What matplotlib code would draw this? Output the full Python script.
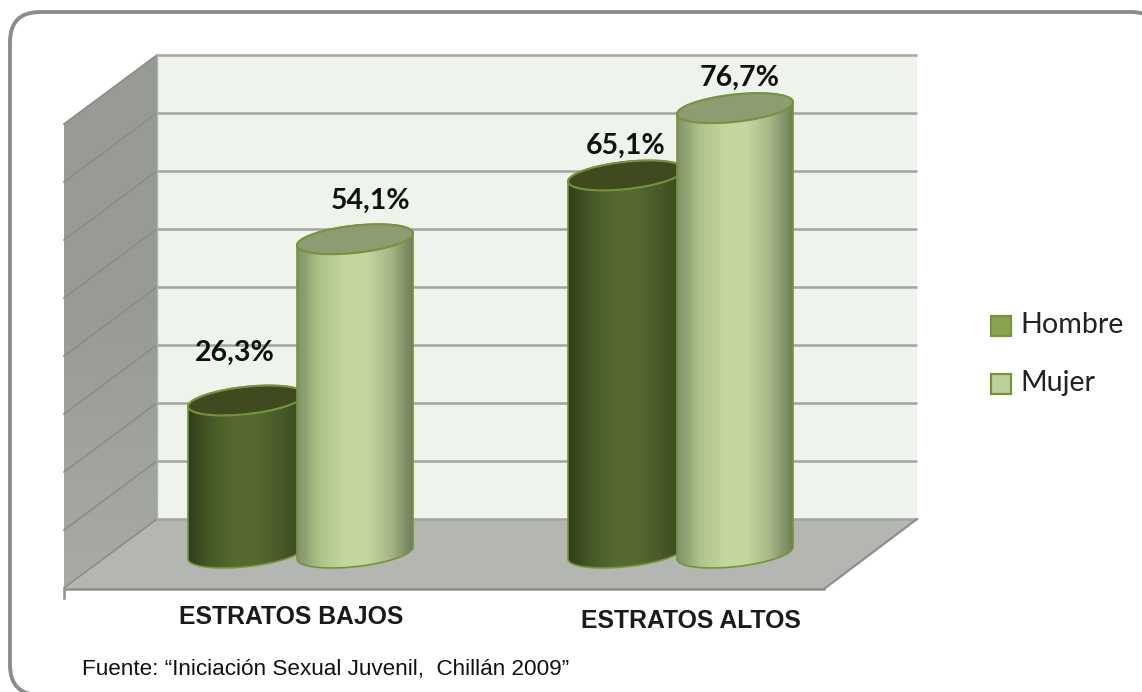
#!/usr/bin/env python3
# -*- coding: utf-8 -*-
"""3D style cylinder chart, Hombre / Mujer by estrato."""

import numpy as np
import matplotlib
matplotlib.use("Agg")  # headless
import matplotlib.pyplot as plt
from matplotlib.colors import LinearSegmentedColormap
from matplotlib.patches import FancyBboxPatch, Polygon, Rectangle

W, H = 1142, 692

categories = ["ESTRATOS BAJOS", "ESTRATOS ALTOS"]
series_names = ["Hombre", "Mujer"]
hombre = [26.3, 65.1]
mujer = [54.1, 76.7]
labels_hombre = ["26,3%", "65,1%"]
labels_mujer = ["54,1%", "76,7%"]
grid_ticks = [0, 10, 20, 30, 40, 50, 60, 70, 80]
source = "Fuente: \u201cIniciaci\u00f3n Sexual Juvenil,  Chill\u00e1n 2009\u201d"

PX_PER_UNIT = 5.8
BACK_BASE = 519
FRONT_DX, FRONT_DY = -93, 69
BAR_BASE = 553
CAT_X = [300, 680]
BAR_DX = {"Hombre": -54, "Mujer": 55}
BAR_HALF = 58
ELL_B, ELL_TILT = 13.7, 6.0

# label offsets from the cylinder top
LABEL_OFF_HOMBRE = [(-11, -48), (0, -30)]
LABEL_OFF_MUJER = [(16, -38), (5, -30)]

DARK_BODY = ["#2f3d1a", "#465a28", "#56692e", "#55682d", "#475a27", "#37461d"]
LIGHT_BODY = ["#7f9166", "#aec38a", "#c3d69c", "#c4d79e", "#a6b888", "#6f7f58"]
DARK_TOP = "#3f4b1e"
LIGHT_TOP = "#8e9c72"
EDGE = "#76933c"
GRID = "#a3a3a3"


def ellipse(cx, cy, n=80, t0=0.0, t1=2 * np.pi):
    t = np.linspace(t0, t1, n)
    x = cx + BAR_HALF * np.cos(t)
    y = cy - ELL_B * np.sin(t) - ELL_TILT * np.cos(t)
    return x, y


def draw_cylinder(ax, cx, value, body_colors, top_color, zorder):
    top_y = BAR_BASE - value * PX_PER_UNIT
    # front half of the bottom ellipse, then up and back along the top one
    bx, by = ellipse(cx, BAR_BASE, t0=np.pi, t1=2 * np.pi)
    tx, ty = ellipse(cx, top_y, t0=0, t1=np.pi)
    body = np.column_stack([np.r_[bx, tx], np.r_[by, ty]])
    cmap = LinearSegmentedColormap.from_list("body", body_colors)
    grad = np.linspace(0, 1, 256).reshape(1, -1)
    im = ax.imshow(grad, cmap=cmap, aspect="auto", zorder=zorder,
                   extent=(cx - BAR_HALF, cx + BAR_HALF, BAR_BASE + 30, top_y - 30))
    poly = Polygon(body, closed=True, fc="none", ec=EDGE, lw=1.2, zorder=zorder + 0.1)
    ax.add_patch(poly)
    im.set_clip_path(poly)
    ex, ey = ellipse(cx, top_y)
    ax.fill(ex, ey, fc=top_color, ec=EDGE, lw=1.5, zorder=zorder + 0.2)


fig = plt.figure(figsize=(W / 100, H / 100), dpi=100)
ax = fig.add_axes([0, 0, 1, 1])

# outer frame, right and bottom sides run off the picture
ax.add_patch(FancyBboxPatch((10, 12), 1151, 683, boxstyle="round,pad=0,rounding_size=30",
                            fc="white", ec="#8c8c8c", lw=2.8, zorder=0))

# walls
back_top = BACK_BASE - grid_ticks[-1] * PX_PER_UNIT
ax.add_patch(Rectangle((157, back_top), 760, BACK_BASE - back_top, fc="#eef3ec", ec="none", zorder=1))
left_wall = Polygon([(157, back_top), (157, BACK_BASE), (157 + FRONT_DX, BACK_BASE + FRONT_DY),
                     (157 + FRONT_DX, back_top + FRONT_DY)], fc="none", ec="none", zorder=1)
ax.add_patch(left_wall)
wall_cmap = LinearSegmentedColormap.from_list("wall", ["#989a95", "#999b96", "#a8aaa5"])
wall_im = ax.imshow(np.linspace(0, 1, 128).reshape(-1, 1), cmap=wall_cmap, aspect="auto", zorder=1,
                    extent=(157 + FRONT_DX, 157, BACK_BASE + FRONT_DY, back_top))
wall_im.set_clip_path(left_wall)
ax.add_patch(Polygon([(157, BACK_BASE), (917, BACK_BASE), (917 + FRONT_DX, BACK_BASE + FRONT_DY + 1),
                      (157 + FRONT_DX, BACK_BASE + FRONT_DY + 1)], fc="#b4b6b1", ec="none", zorder=1))

for v in grid_ticks:
    y = BACK_BASE - v * PX_PER_UNIT
    ax.plot([157, 917], [y, y], color=GRID, lw=1.8, zorder=2, solid_capstyle="butt")
    ax.plot([157, 157 + FRONT_DX], [y, y + FRONT_DY], color="#8a8c88", lw=1.2, zorder=2)
ax.plot([157, 157], [back_top, BACK_BASE], color="#b0b2ae", lw=1.0, zorder=2)
ax.plot([917, 917 + FRONT_DX], [BACK_BASE, BACK_BASE + FRONT_DY + 1], color="#8f908d", lw=1.6, zorder=2)
ax.plot([64, 64, 824], [598, 589, 589], color="#8f908d", lw=1.8, zorder=2)

# cylinders, Hombre first since Mujer overlaps it
for i, cx in enumerate(CAT_X):
    draw_cylinder(ax, cx + BAR_DX["Hombre"], hombre[i], DARK_BODY, DARK_TOP, 3 + i)
    draw_cylinder(ax, cx + BAR_DX["Mujer"], mujer[i], LIGHT_BODY, LIGHT_TOP, 3.5 + i)
    dx, dy = LABEL_OFF_HOMBRE[i]
    ax.text(cx + BAR_DX["Hombre"] + dx, BAR_BASE - hombre[i] * PX_PER_UNIT + dy, labels_hombre[i],
            ha="center", va="center", family="Lato", weight="bold", fontsize=20.5, color="#111111", zorder=8)
    dx, dy = LABEL_OFF_MUJER[i]
    ax.text(cx + BAR_DX["Mujer"] + dx, BAR_BASE - mujer[i] * PX_PER_UNIT + dy, labels_mujer[i],
            ha="center", va="center", family="Lato", weight="bold", fontsize=20.5, color="#111111", zorder=8)

ax.text(291, 617, categories[0], ha="center", va="center", family="Liberation Sans",
        weight="bold", fontsize=17.8, color="#1a1a1a")
ax.text(691, 621, categories[1], ha="center", va="center", family="Liberation Sans",
        weight="bold", fontsize=17.8, color="#1a1a1a")
ax.text(82, 669, source, ha="left", va="center", family="Liberation Sans", fontsize=16.2, color="#111111")

# legend
for name, y, fill in [(series_names[0], 326, "#8aa34e"), (series_names[1], 384, "#bcd09c")]:
    ax.add_patch(Rectangle((991, y - 10), 20, 20, fc=fill, ec="#76933c", lw=1.6, zorder=3))
    ax.text(1020, y - 1, name, ha="left", va="center", family="Lato", fontsize=20.6, color="#222222")

ax.set_xlim(0, W)
ax.set_ylim(H, 0)
ax.axis("off")

fig.savefig("out.png", dpi=100)
plt.close(fig)
